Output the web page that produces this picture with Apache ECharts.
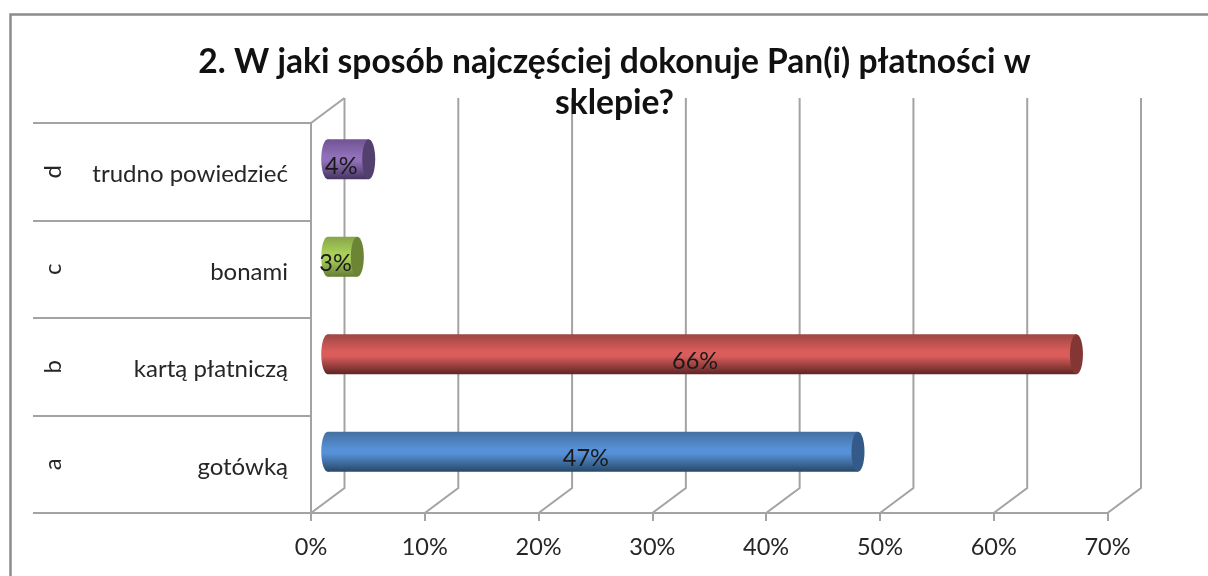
<!DOCTYPE html>
<html>
<head>
<meta charset="utf-8">
<style>html,body{margin:0;padding:0;background:#fff}#c{width:1208px;height:576px}</style>
<script src="https://cdn.jsdelivr.net/npm/echarts@6/dist/echarts.min.js"></script>
</head>
<body>
<div id="c"></div>
<script>
const titleText = '2. W jaki sposób najczęściej dokonuje Pan(i) płatności w\nsklepie?';
const letters = ['a', 'b', 'c', 'd'];
const categories = ['gotówką', 'kartą płatniczą', 'bonami', 'trudno powiedzieć'];
const values = [46.6, 65.8, 2.6, 3.6];
const xTicks = [0, 10, 20, 30, 40, 50, 60, 70];

const palette = [
  {top:'#44709f', mid:'#5690d6', bot:'#274868', cap:'#335a88'},
  {top:'#9c4644', mid:'#da5d5b', bot:'#5e2524', cap:'#843634'},
  {top:'#86a548', mid:'#aad05a', bot:'#637d33', cap:'#6b8535'},
  {top:'#705393', mid:'#9070b8', bot:'#46345f', cap:'#54406f'}
];
const GRID = '#a3a3a3', TEXT = '#262626', FONT = 'Lato, "Open Sans", sans-serif';
const DX = 33.5, DY = -25, RX = 6.5, RY = 20;

const chart = echarts.init(document.getElementById('c'));
chart.setOption({
  animation: false,
  backgroundColor: '#fff',
  title: {
    text: titleText, left: 609.5, top: 36, textAlign: 'center', z: 20,
    textStyle: {fontFamily: FONT, fontWeight: 'bold', fontSize: 33.6, lineHeight: 41.5, color: '#111'}
  },
  graphic: [
    {type:'polyline', silent:true, z:0, shape:{points:[[10.5,576],[10.5,14.5],[1208,14.5]]},
     style:{stroke:'#8c8c8c', lineWidth:2.5, fill:null}}
  ],
  grid: {left: 311, top: 123, width: 796.5, height: 390},
  xAxis: {
    type: 'value', min: 0, max: 70, interval: 10,
    splitLine: {show: false},
    axisLine: {show: true, lineStyle: {color: GRID, width: 2}},
    axisTick: {show: true, length: 8, lineStyle: {color: GRID, width: 2}},
    axisLabel: {formatter: '{value}%', margin: 22, fontSize: 23.5, color: TEXT, fontFamily: FONT}
  },
  yAxis: [
    {
      type: 'category', data: categories,
      axisLine: {show: true, lineStyle: {color: GRID, width: 2}},
      axisTick: {show: true, length: 278, lineStyle: {color: GRID, width: 2}},
      axisLabel: {
        margin: 23,
        formatter: v => '{a|' + v + '}',
        rich: {a: {fontSize: 24, padding: [6, 0, 0, 0], color: TEXT, fontFamily: FONT}}
      }
    },
    {
      type: 'category', data: letters, position: 'left', offset: 258,
      axisLine: {show: false}, axisTick: {show: false},
      axisLabel: {rotate: 90, margin: 0, align: 'center', verticalAlign: 'middle', fontSize: 24, color: TEXT, fontFamily: FONT}
    }
  ],
  series: [
    {
      type: 'custom', z: 1, clip: false, silent: true,
      data: xTicks.map(t => [t]),
      encode: {x: 0},
      renderItem(params, api) {
        const cs = params.coordSys;
        const x = api.coord([api.value(0), 0])[0];
        const bottom = cs.y + cs.height, top = cs.y;
        const children = [{
          type: 'polyline',
          shape: {points: [[x, bottom], [x + DX, bottom + DY], [x + DX, top + DY]]},
          style: {stroke: GRID, lineWidth: 2, fill: null}
        }];
        if (params.dataIndex === 0) {
          children.push({type: 'line', shape: {x1: x, y1: top, x2: x + DX, y2: top + DY},
            style: {stroke: GRID, lineWidth: 2}});
        }
        return {type: 'group', children};
      }
    },
    {
      type: 'custom', z: 5, clip: false, silent: true,
      data: values.map((v, i) => [v, i]),
      encode: {x: 0, y: 1},
      renderItem(params, api) {
        const p = palette[params.dataIndex];
        const start = api.coord([0, api.value(1)]);
        const end = api.coord([api.value(0), api.value(1)]);
        const cy = start[1] + DY / 2;
        const x0 = start[0] + DX / 2, x1 = end[0] + DX / 2;
        const grad = new echarts.graphic.LinearGradient(0, 0, 0, 1, [
          {offset: 0, color: p.top}, {offset: 0.42, color: p.mid},
          {offset: 0.55, color: p.mid}, {offset: 1, color: p.bot}
        ]);
        return {type: 'group', children: [
          {type: 'ellipse', shape: {cx: x0, cy, rx: RX, ry: RY}, style: {fill: grad}},
          {type: 'rect', shape: {x: x0, y: cy - RY, width: x1 - x0, height: 2 * RY}, style: {fill: grad}},
          {type: 'ellipse', shape: {cx: x1, cy, rx: RX, ry: RY}, style: {fill: p.cap}},
          {type: 'text', z2: 10, style: {
            x: (x0 + x1) / 2 - 7, y: cy + 7,
            text: Math.round(api.value(0)) + '%',
            align: 'center', verticalAlign: 'middle',
            fill: '#1a1a1a', fontSize: 23.5, fontFamily: FONT
          }}
        ]};
      }
    }
  ]
});
</script>
</body>
</html>
